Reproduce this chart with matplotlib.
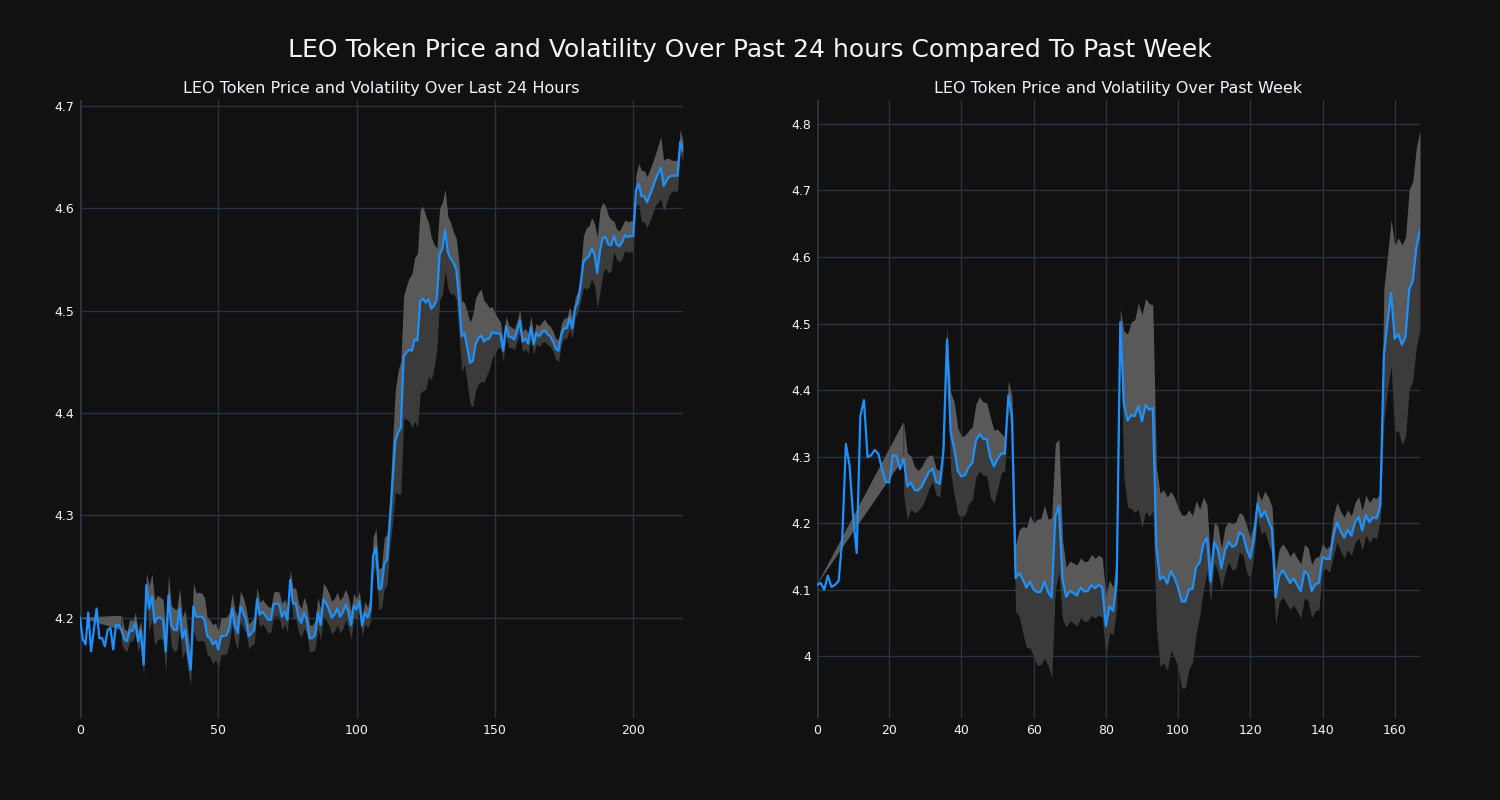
import numpy as np
import matplotlib
matplotlib.use("Agg")
import matplotlib.pyplot as plt
from matplotlib.ticker import FuncFormatter, MultipleLocator

# ---------------- data ----------------
price_24h = [
    4.200, 4.179, 4.174, 4.205, 4.167, 4.188, 4.209, 4.180, 4.180, 4.172,
    4.188, 4.190, 4.169, 4.193, 4.193, 4.188, 4.179, 4.177, 4.188, 4.187,
    4.195, 4.177, 4.187, 4.154, 4.232, 4.209, 4.221, 4.195, 4.200, 4.200,
    4.198, 4.167, 4.222, 4.192, 4.188, 4.188, 4.209, 4.180, 4.188, 4.167,
    4.149, 4.211, 4.201, 4.201, 4.201, 4.198, 4.182, 4.180, 4.174, 4.177,
    4.169, 4.182, 4.182, 4.183, 4.190, 4.209, 4.192, 4.185, 4.211, 4.205,
    4.198, 4.182, 4.185, 4.188, 4.218, 4.203, 4.206, 4.202, 4.198, 4.198,
    4.213, 4.214, 4.213, 4.201, 4.206, 4.198, 4.237, 4.214, 4.214, 4.200,
    4.195, 4.205, 4.198, 4.180, 4.180, 4.183, 4.205, 4.193, 4.218, 4.214,
    4.208, 4.200, 4.203, 4.209, 4.201, 4.205, 4.213, 4.206, 4.193, 4.212,
    4.208, 4.216, 4.192, 4.205, 4.200, 4.208, 4.261, 4.269, 4.228, 4.229,
    4.253, 4.257, 4.293, 4.333, 4.373, 4.381, 4.386, 4.455, 4.459, 4.462,
    4.461, 4.472, 4.471, 4.509, 4.512, 4.508, 4.511, 4.502, 4.505, 4.511,
    4.555, 4.561, 4.579, 4.557, 4.551, 4.547, 4.541, 4.513, 4.475, 4.478,
    4.464, 4.449, 4.451, 4.467, 4.473, 4.476, 4.470, 4.472, 4.473, 4.479,
    4.478, 4.478, 4.477, 4.461, 4.485, 4.475, 4.474, 4.472, 4.480, 4.490,
    4.470, 4.473, 4.468, 4.484, 4.467, 4.478, 4.475, 4.479, 4.481, 4.477,
    4.475, 4.470, 4.463, 4.461, 4.477, 4.483, 4.483, 4.493, 4.483, 4.503,
    4.509, 4.525, 4.548, 4.551, 4.553, 4.561, 4.555, 4.537, 4.559, 4.571,
    4.572, 4.565, 4.564, 4.573, 4.565, 4.563, 4.567, 4.574, 4.572, 4.573,
    4.573, 4.618, 4.624, 4.612, 4.612, 4.606, 4.613, 4.620, 4.628, 4.634,
    4.640, 4.622, 4.627, 4.631, 4.632, 4.632, 4.632, 4.665, 4.656,
]

vol_24h = [
    None, None, None, None, None, None, None, None, None, None,
    None, None, None, None, None, 0.014, 0.010, 0.010, 0.011, 0.010,
    0.010, 0.011, 0.010, 0.012, 0.012, 0.022, 0.022, 0.022, 0.022, 0.020,
    0.020, 0.021, 0.020, 0.020, 0.021, 0.020, 0.020, 0.020, 0.020, 0.018,
    0.015, 0.023, 0.023, 0.024, 0.023, 0.022, 0.018, 0.018, 0.019, 0.018,
    0.018, 0.018, 0.018, 0.018, 0.015, 0.015, 0.015, 0.016, 0.015, 0.015,
    0.012, 0.012, 0.012, 0.013, 0.012, 0.012, 0.012, 0.012, 0.013, 0.012,
    0.012, 0.012, 0.012, 0.013, 0.012, 0.012, 0.010, 0.015, 0.015, 0.014,
    0.014, 0.015, 0.014, 0.013, 0.013, 0.014, 0.015, 0.015, 0.016, 0.016,
    0.016, 0.016, 0.016, 0.016, 0.016, 0.016, 0.015, 0.015, 0.014, 0.012,
    0.010, 0.010, 0.010, 0.011, 0.010, 0.012, 0.018, 0.018, 0.020, 0.020,
    0.025, 0.025, 0.025, 0.040, 0.050, 0.060, 0.065, 0.060, 0.065, 0.070,
    0.075, 0.080, 0.085, 0.090, 0.090, 0.085, 0.075, 0.070, 0.060, 0.050,
    0.045, 0.045, 0.040, 0.035, 0.035, 0.030, 0.030, 0.035, 0.035, 0.030,
    0.035, 0.040, 0.045, 0.045, 0.045, 0.045, 0.040, 0.035, 0.030, 0.025,
    0.020, 0.015, 0.012, 0.010, 0.010, 0.011, 0.010, 0.010, 0.010, 0.011,
    0.010, 0.010, 0.010, 0.011, 0.010, 0.010, 0.010, 0.010, 0.011, 0.010,
    0.010, 0.010, 0.010, 0.011, 0.010, 0.010, 0.010, 0.011, 0.010, 0.010,
    0.010, 0.015, 0.025, 0.030, 0.030, 0.030, 0.030, 0.035, 0.040, 0.035,
    0.030, 0.028, 0.025, 0.015, 0.015, 0.015, 0.016, 0.015, 0.015, 0.015,
    0.015, 0.015, 0.020, 0.025, 0.025, 0.025, 0.025, 0.025, 0.025, 0.028,
    0.030, 0.025, 0.022, 0.018, 0.015, 0.015, 0.015, 0.012, 0.010,
]

price_week = [
    4.107, 4.110, 4.100, 4.121, 4.104, 4.107, 4.113, 4.177, 4.319, 4.287,
    4.210, 4.155, 4.361, 4.385, 4.299, 4.302, 4.310, 4.304, 4.281, 4.262,
    4.261, 4.302, 4.301, 4.281, 4.297, 4.255, 4.261, 4.250, 4.249, 4.255,
    4.266, 4.277, 4.282, 4.262, 4.259, 4.308, 4.476, 4.337, 4.312, 4.278,
    4.270, 4.272, 4.284, 4.290, 4.324, 4.334, 4.327, 4.326, 4.299, 4.285,
    4.296, 4.305, 4.304, 4.392, 4.361, 4.117, 4.125, 4.115, 4.103, 4.112,
    4.100, 4.096, 4.097, 4.112, 4.096, 4.088, 4.210, 4.226, 4.115, 4.089,
    4.098, 4.095, 4.091, 4.103, 4.097, 4.098, 4.107, 4.102, 4.107, 4.103,
    4.045, 4.075, 4.068, 4.112, 4.502, 4.379, 4.354, 4.362, 4.361, 4.376,
    4.353, 4.378, 4.370, 4.373, 4.164, 4.115, 4.120, 4.109, 4.128, 4.118,
    4.103, 4.082, 4.082, 4.100, 4.101, 4.134, 4.141, 4.169, 4.178, 4.112,
    4.171, 4.161, 4.132, 4.159, 4.172, 4.164, 4.167, 4.186, 4.182, 4.161,
    4.147, 4.177, 4.229, 4.209, 4.218, 4.204, 4.190, 4.088, 4.121, 4.129,
    4.120, 4.110, 4.117, 4.107, 4.098, 4.128, 4.123, 4.098, 4.108, 4.110,
    4.149, 4.146, 4.146, 4.180, 4.201, 4.188, 4.178, 4.190, 4.181, 4.201,
    4.209, 4.189, 4.212, 4.201, 4.209, 4.207, 4.226, 4.453, 4.502, 4.546,
    4.477, 4.484, 4.468, 4.480, 4.551, 4.564, 4.615, 4.640,
]

vol_week = [
    None, None, None, None, None, None, None, None, None, None,
    None, None, None, None, None, None, None, None, None, None,
    None, None, None, None, 0.055, 0.050, 0.040, 0.035, 0.030, 0.030,
    0.030, 0.025, 0.020, 0.020, 0.020, 0.020, 0.018, 0.060, 0.070, 0.065,
    0.060, 0.060, 0.055, 0.055, 0.055, 0.056, 0.055, 0.055, 0.060, 0.055,
    0.045, 0.030, 0.025, 0.022, 0.030, 0.050, 0.065, 0.080, 0.090, 0.100,
    0.100, 0.110, 0.110, 0.115, 0.110, 0.120, 0.110, 0.100, 0.060, 0.045,
    0.045, 0.045, 0.046, 0.045, 0.045, 0.045, 0.046, 0.045, 0.045, 0.045,
    0.045, 0.040, 0.035, 0.040, 0.020, 0.110, 0.130, 0.140, 0.145, 0.155,
    0.160, 0.160, 0.160, 0.155, 0.120, 0.130, 0.130, 0.130, 0.120, 0.120,
    0.120, 0.130, 0.130, 0.120, 0.110, 0.100, 0.080, 0.070, 0.050, 0.030,
    0.030, 0.035, 0.030, 0.035, 0.030, 0.035, 0.035, 0.030, 0.030, 0.035,
    0.030, 0.025, 0.020, 0.025, 0.030, 0.035, 0.035, 0.040, 0.040, 0.040,
    0.041, 0.040, 0.040, 0.040, 0.041, 0.040, 0.040, 0.040, 0.040, 0.040,
    0.020, 0.015, 0.020, 0.030, 0.030, 0.030, 0.031, 0.030, 0.030, 0.030,
    0.031, 0.030, 0.030, 0.030, 0.030, 0.030, 0.020, 0.100, 0.100, 0.110,
    0.140, 0.145, 0.150, 0.150, 0.150, 0.150, 0.150, 0.150,
]

suptitle = "LEO Token Price and Volatility Over Past 24 hours Compared To Past Week"
title_24h = "LEO Token Price and Volatility Over Last 24 Hours"
title_week = "LEO Token Price and Volatility Over Past Week"

# ---------------- style ----------------
BG = "#111111"
GRID = "#283442"
TXT = "#f2f5fa"
LINE = "#1E90FF"
UP = "#595959"
DN = "#3b3b3b"

plt.rcParams["font.family"] = ["DejaVu Sans"]

fig = plt.figure(figsize=(15, 8), dpi=100, facecolor=BG)
fig.text(0.5, 1 - 50 / 800, suptitle, ha="center", va="center", color=TXT, fontsize=18)

ax1 = fig.add_axes([80 / 1500, 82 / 800, 603 / 1500, 618 / 800])
ax2 = fig.add_axes([817 / 1500, 82 / 800, 603 / 1500, 618 / 800])


def draw(ax, price, vol, title, ylim, xstep, ystep):
    p = np.array(price, dtype=float)
    v = np.array([np.nan if a is None else a for a in vol], dtype=float)
    x = np.arange(len(p))
    ax.set_facecolor(BG)
    k = int(np.argmax(~np.isnan(v)))
    # wedge before the volatility window starts
    ax.fill([x[0], x[k], x[k]], [p[0], p[k] + v[k], p[k]], color=UP, lw=0, zorder=2)
    ax.fill_between(x, p, p + v, color=UP, lw=0, zorder=2)
    ax.fill_between(x, p - v, p, color=DN, lw=0, zorder=2)
    ax.plot(x, p, color=LINE, lw=1.6, zorder=3)
    ax.set_xlim(0, len(p) - 1)
    ax.set_ylim(*ylim)
    ax.xaxis.set_major_locator(MultipleLocator(xstep))
    ax.yaxis.set_major_locator(MultipleLocator(ystep))
    ax.yaxis.set_major_formatter(FuncFormatter(lambda val, pos: f"{val:.1f}".rstrip("0").rstrip(".")))
    ax.grid(True, color=GRID, lw=1.0, zorder=1)
    ax.set_axisbelow(True)
    for s in ax.spines.values():
        s.set_visible(False)
    ax.axvline(0, color=GRID, lw=2.0, zorder=1)
    ax.tick_params(colors=TXT, labelsize=9, length=0, pad=4)
    ax.set_title(title, color=TXT, fontsize=11.5, pad=5)


draw(ax1, price_24h, vol_24h, title_24h, (4.102, 4.706), 50, 0.1)
draw(ax2, price_week, vol_week, title_week, (3.907, 4.836), 20, 0.1)

fig.savefig("out.png", dpi=100, facecolor=BG)
